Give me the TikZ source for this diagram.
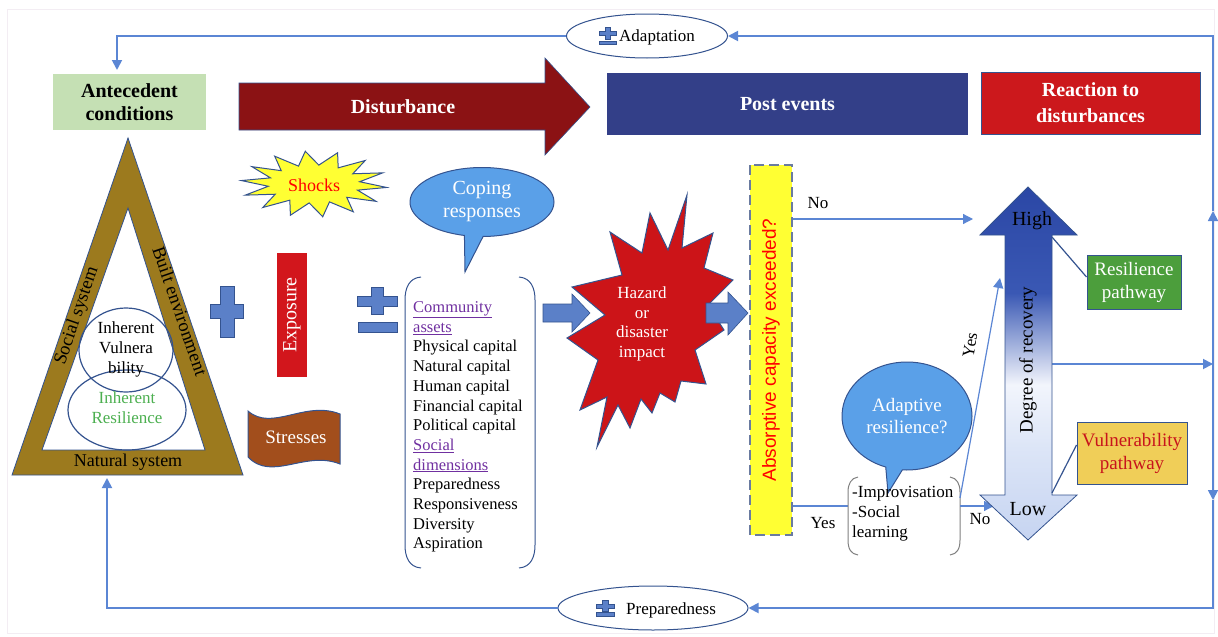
\documentclass[tikz,border=0pt]{standalone}
\usepackage{fontspec}
\setmainfont{Liberation Serif}
\newfontfamily\sansf{Liberation Sans}
\usetikzlibrary{arrows.meta,shapes.callouts,shapes.geometric}
\newcommand\fsz[2]{\fontsize{#1}{#2}\selectfont}
\definecolor{cblue}{HTML}{5B86D4}
\definecolor{dblue}{HTML}{34538F}
\definecolor{antgreen}{HTML}{C5E0B4}
\definecolor{distred}{HTML}{8B1214}
\definecolor{postblue}{HTML}{333F88}
\definecolor{reactred}{HTML}{CC181C}
\definecolor{triolive}{HTML}{9C7A1E}
\definecolor{expred}{HTML}{D2161C}
\definecolor{stressbrown}{HTML}{A24E1C}
\definecolor{copeblue}{HTML}{5AA0E8}
\definecolor{hazred}{HTML}{CC1418}
\definecolor{abyellow}{HTML}{FFFF33}
\definecolor{resgreen}{HTML}{4C9E3C}
\definecolor{vulyellow}{HTML}{F0CE58}
\definecolor{vultext}{HTML}{C8141C}
\definecolor{purp}{HTML}{7030A0}
\definecolor{greentext}{HTML}{4CAF50}
\definecolor{plusblue}{HTML}{5B80C8}
\definecolor{dashgray}{HTML}{6A7BA0}
\definecolor{faint}{HTML}{F3EDF3}
\definecolor{lb}{HTML}{C6D4F1}
\definecolor{lbb}{HTML}{DCE5F7}
\definecolor{wb}{HTML}{F2F5FC}
\definecolor{dba}{HTML}{3A58B4}
\definecolor{dbb}{HTML}{2B47A5}
\pgfdeclareverticalshading{recov}{100bp}{color(0bp)=(lb); color(25bp)=(lb); color(38bp)=(lbb); color(47bp)=(wb); color(60bp)=(dba); color(75bp)=(dbb); color(100bp)=(dbb)}
\begin{document}
\begin{tikzpicture}[x=1pt,y=-1pt,
  conn/.style={draw=cblue, line width=1.8pt},
  thinconn/.style={draw=cblue, line width=1.2pt},
  tip/.style={-{Triangle[length=10pt,width=10pt]}},
  blk/.style={fill=plusblue, draw=dblue, line width=0.6pt},
  txt/.style={inner sep=0pt, font=\fsz{17}{20}},
  bracket/.style={line width=1pt}]
\useasboundingbox (0,0) rectangle (1218,637);
\draw[faint, line width=1pt] (7,9) rectangle (1214,633);

% ---------- top headers
\node[fill=antgreen, minimum width=153pt, minimum height=56pt, align=center,
      font=\fsz{20}{23}\bfseries] (ant) at (129.5,102) {Antecedent\\conditions};
\path[fill=distred, draw=dblue, line width=0.6pt] (239,83) -- (545,83) -- (545,58)
  -- (590,107) -- (545,155) -- (545,130) -- (239,130) -- cycle;
\node[text=white, font=\fsz{20}{23}\bfseries] (dist) at (403,107) {Disturbance};
\node[fill=postblue, minimum width=361pt, minimum height=62pt, text=white,
      font=\fsz{20}{23}\bfseries] (post) at (787.5,104) {Post events};
\node[fill=reactred, draw=dblue, line width=0.6pt, minimum width=219pt, minimum height=62pt,
      text=white, align=center, font=\fsz{20}{26}\bfseries] (react) at (1090.5,103) {Reaction to\\disturbances};

% ---------- feedback loop ellipses
\node[ellipse, draw=dblue, fill=white, line width=1pt, minimum width=161pt, minimum height=44pt] (adapt) at (647,36) {};
\path[blk] (605,27) -- (610,27) -- (610,31) -- (616,31) -- (616,35) -- (610,35) -- (610,39)
  -- (605,39) -- (605,35) -- (599,35) -- (599,31) -- (605,31) -- cycle;
\path[blk] (599,41) rectangle (616,44);
\node[txt, anchor=west] (adtxt) at (619,37) {Adaptation};

\node[ellipse, draw=dblue, fill=white, line width=1pt, minimum width=190pt, minimum height=44pt] (prep) at (653,608) {};
\path[blk] (602,600) -- (608,600) -- (608,604) -- (614,604) -- (614,608) -- (608,608) -- (608,611)
  -- (602,611) -- (602,608) -- (596,608) -- (596,604) -- (602,604) -- cycle;
\path[blk] (596,612) rectangle (614,616);
\node[txt, anchor=west] (preptxt) at (626,610) {Preparedness};

\coordinate (R) at (1213,364);
\coordinate (TR) at (1213,36);
\coordinate (BR) at (1213,608);
\coordinate (ua) at (1213,211);
\coordinate (da) at (1213,500);
\coordinate (degR) at (1052,364);
\coordinate (antIn) at (117,70);
\coordinate (triIn) at (107,478);
\draw[conn, tip] (degR) -- (R);
\draw[conn, tip] (R) -- (ua);
\draw[conn, tip] (ua) -- (TR) -- (adapt.east);
\draw[conn, tip] (R) -- (da);
\draw[conn, tip] (da) -- (BR) -- (prep.east);
\draw[conn, tip] (adapt.west) -| (antIn);
\draw[conn, tip] (prep.west) -| (triIn);

% ---------- triangle
\path[fill=triolive, draw=dblue, line width=0.8pt, even odd rule]
  (128,138) -- (243,475) -- (12,475) -- cycle (128,208) -- (205,450) -- (42,450) -- cycle;
\draw[dblue, line width=1.2pt] (126,350) ellipse [x radius=47, y radius=42];
\draw[dblue, line width=1.2pt] (127,410) ellipse [x radius=59, y radius=40];
\node[align=center, font=\fsz{17}{20}] (iv) at (126,349) {Inherent\\Vulnera\\bility};
\node[align=center, text=greentext, font=\fsz{17}{20}] (ir) at (127,408) {Inherent\\Resilience};
\node[rotate=71, font=\fsz{18.5}{20}] (soc) at (77,316) {Social system};
\node[rotate=-71, font=\fsz{18.5}{20}] (built) at (180,311) {Built environment};
\node[font=\fsz{18}{20}] (nat) at (128,462) {Natural system};

% ---------- plus, exposure, pm, stresses, shocks
\path[blk] (220,286) -- (234,286) -- (234,304) -- (243,304) -- (243,318) -- (234,318) -- (234,337)
  -- (220,337) -- (220,318) -- (210,318) -- (210,304) -- (220,304) -- cycle;
\node[fill=expred, rotate=90, minimum width=124pt, minimum height=30pt, text=white,
      font=\fsz{20}{22}, inner sep=0pt] (expo) at (292,315) {Exposure};
\path[blk] (371,287) -- (383,287) -- (383,296) -- (397,296) -- (397,306) -- (383,306) -- (383,314)
  -- (371,314) -- (371,306) -- (357,306) -- (357,296) -- (371,296) -- cycle;
\path[blk] (358,322) rectangle (397,332);
\path[fill=stressbrown, draw=dblue, line width=1pt]
  (248,411) .. controls (272,432) and (305,400) .. (340,414) -- (340,464)
  .. controls (305,450) and (272,482) .. (248,457) -- cycle;
\node[text=white, font=\fsz{19}{21}] (stress) at (296,437) {Stresses};
\path[fill=abyellow, draw=dblue, line width=1pt]
  plot[domain=0:27, samples=28] ({314+(mod(round(\x),2)==0?73:46)*cos(\x*360/28+6)},
                                 {184+(mod(round(\x),2)==0?33:19)*sin(\x*360/28+6)}) -- cycle;
\node[text=red, font=\fsz{18}{20}] (shock) at (314,185) {Shocks};

% ---------- coping responses and community assets
\node[ellipse callout, draw=dblue, fill=copeblue, line width=1pt, minimum width=144pt, minimum height=69pt,
      callout absolute pointer={(465,272)}, align=center, text=white, font=\fsz{20}{23}] (cope) at (482,202) {Coping\\responses};
\node[anchor=west, align=left, inner sep=0pt, font=\fsz{16.5}{19.7}] (assets) at (413,427)
  {\textcolor{purp}{\underline{Community}}\\\textcolor{purp}{\underline{assets}}\\Physical capital\\Natural capital\\Human capital\\Financial capital\\Political capital\\\textcolor{purp}{\underline{Social}}\\\textcolor{purp}{\underline{dimensions}}\\Preparedness\\Responsiveness\\Diversity\\Aspiration};
\draw[dblue, bracket] (421,277) .. controls (409,278) and (405,288) .. (405,300) -- (405,545)
  .. controls (405,557) and (409,567) .. (421,568);
\draw[dblue, bracket] (519,277) .. controls (531,278) and (535,288) .. (535,300) -- (535,545)
  .. controls (535,557) and (531,567) .. (519,568);

% ---------- block arrows and hazard
\path[blk] (543,304) -- (572,304) -- (572,294) -- (590,313) -- (572,332) -- (572,322) -- (543,322) -- cycle;
\path[fill=hazred, draw=dblue, line width=1pt]
  (687,195) -- (668,250) -- (650,213) -- (642,253) -- (610,232) -- (622,275) -- (572,287)
  -- (605,315) -- (567,338) -- (598,360) -- (580,410) -- (607,397) -- (597,447) -- (618,405)
  -- (630,428) -- (641,399) -- (652,413) -- (660,393) -- (675,402) -- (681,381) -- (706,384)
  -- (695,350) -- (724,330) -- (708,305) -- (733,280) -- (704,268) -- (713,233) -- (682,248) -- cycle;
\node[align=center, text=white, font=\fsz{17}{19.5}] (haz) at (642,324) {Hazard\\or\\disaster\\impact};
\path[blk] (706,303) -- (728,303) -- (728,292) -- (748,313) -- (728,335) -- (728,323) -- (706,323) -- cycle;

% ---------- absorptive capacity
\node[fill=abyellow, draw=dashgray, line width=1.5pt, dash pattern=on 10pt off 5pt, rotate=90,
      minimum width=370pt, minimum height=42pt, text=red, font=\sansf\fsz{19}{21}] (abs) at (771,350)
      {Absorptive capacity exceeded?};
\coordinate (noEnd) at (973,219);
\coordinate (yesIn) at (848,506);
\draw[thinconn, tip] (abs.south |- noEnd) -- (noEnd);
\draw[thinconn] (abs.south |- yesIn) -- (yesIn);
\node[txt] (no1) at (818,203) {No};
\node[txt] (yes1) at (823,523) {Yes};

% ---------- adaptive resilience
\node[ellipse callout, draw=dblue, fill=copeblue, line width=1pt, minimum width=130pt, minimum height=108pt,
      callout absolute pointer={(888,493)}, align=center, text=white, font=\fsz{19}{22}] (adres) at (907,416)
      {Adaptive\\resilience?};
\node[anchor=west, align=left, inner sep=0pt, font=\fsz{17}{20}] (impro) at (852,514)
  {-Improvisation\\-Social\\learning};
\draw[gray, bracket] (858,477) .. controls (851,478) and (848,484) .. (848,492) -- (848,540)
  .. controls (848,549) and (851,554) .. (858,555);
\draw[gray, bracket] (950,477) .. controls (957,478) and (960,484) .. (960,492) -- (960,540)
  .. controls (960,549) and (957,554) .. (950,555);
\coordinate (iyes) at (960,498);
\coordinate (ino) at (960,506);
\coordinate (yesEnd) at (1000,278);
\coordinate (noEnd2) at (994,506);
\draw[thinconn, tip] (iyes) -- (yesEnd);
\draw[thinconn, tip] (ino) -- (noEnd2);
\node[txt, rotate=80] (yes2) at (970,345) {Yes};
\node[txt] (no2) at (980,519) {No};

% ---------- degree of recovery double arrow
\path[draw=dblue, line width=0.8pt, shading=recov]
  (1028,187) -- (1077,235) -- (1052,235) -- (1052,495) -- (1077,495) -- (1028,540)
  -- (980,495) -- (1005,495) -- (1005,235) -- (980,235) -- cycle;
\node[font=\fsz{20}{22}] (high) at (1032,221) {High};
\node[font=\fsz{20}{22}] (low) at (1028,509) {Low};
\node[rotate=90, font=\fsz{19}{21}] (deg) at (1028,360) {Degree of recovery};

% ---------- pathways
\node[fill=resgreen, draw=dblue, line width=1pt, minimum width=94pt, minimum height=54pt, text=white,
      align=center, inner sep=0pt, font=\fsz{19}{23}] (res) at (1134,282) {Resilience\\pathway};
\node[fill=vulyellow, draw=dblue, line width=1pt, minimum width=110pt, minimum height=62pt, text=vultext,
      align=center, inner sep=0pt, font=\fsz{19}{23}] (vul) at (1132,453) {Vulnerability\\pathway};
\coordinate (hiR) at (1052,237);
\coordinate (loR) at (1052,493);
\draw[dblue, line width=1.2pt] (hiR) -- ([yshift=5pt]res.west);
\draw[dblue, line width=1.2pt] (loR) -- ([yshift=8pt]vul.west);
\end{tikzpicture}
\end{document}
